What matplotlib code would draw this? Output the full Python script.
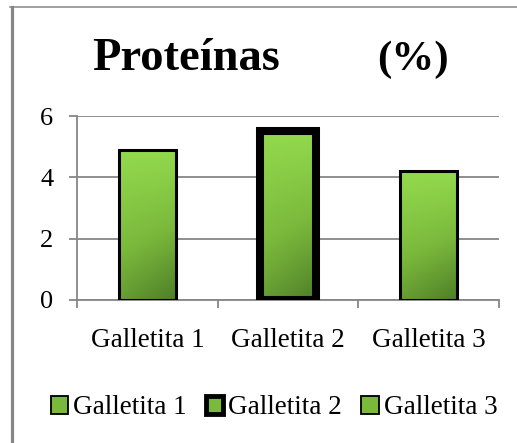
import matplotlib
matplotlib.use('Agg')
import matplotlib.pyplot as plt
import numpy as np
from matplotlib.colors import LinearSegmentedColormap
from matplotlib.lines import Line2D
from matplotlib.patches import Patch

plt.rcParams['font.family'] = ['Liberation Serif', 'DejaVu Serif']

# datos
categorias = ['Galletita 1', 'Galletita 2', 'Galletita 3']
proteinas = [4.9, 5.5, 4.2]
bordes = [2.2, 5.8, 2.2]
y_ticks = [0, 2, 4, 6]

verde = LinearSegmentedColormap.from_list('verde', ['#93DA4D', '#7BB93C', '#4E7E28'])
gris = '#868686'

fig = plt.figure(figsize=(5.17, 4.43), dpi=100)
ax = fig.add_axes([77 / 517, 1 - 300 / 443, 422 / 517, 184 / 443])

x = np.arange(len(categorias))
barras = ax.bar(x, proteinas, width=0.405, color='none', edgecolor='black', zorder=3)

# degradado diagonal dentro de cada barra
u, v = np.meshgrid(np.linspace(0, 1, 60), np.linspace(0, 1, 200))
grad = 0.8 * v + 0.3 * u * v
for b, lw in zip(barras, bordes):
    b.set_linewidth(lw)
    x0, w, h = b.get_x(), b.get_width(), b.get_height()
    im = ax.imshow(grad, cmap=verde, vmin=0, vmax=1.1, aspect='auto',
                   extent=[x0, x0 + w, 0, h], origin='upper', zorder=2)
    im.set_clip_path(b)

ax.set_xlim(-0.5, 2.5)
ax.set_ylim(0, 6)
ax.set_yticks(y_ticks)
ax.yaxis.grid(True, color=gris, linewidth=1.3)
ax.set_axisbelow(True)

ax.set_xticks([-0.5, 0.5, 1.5, 2.5])
ax.set_xticklabels([])
ax.set_xticks(x, minor=True)
ax.set_xticklabels(categorias, minor=True)
ax.tick_params(axis='x', which='major', length=6, color=gris, width=1.3)
ax.tick_params(axis='x', which='minor', length=0, pad=20, labelsize=19.5)
ax.tick_params(axis='y', length=6, color=gris, width=1.3, labelsize=19, pad=11)

for lado in ['top', 'right']:
    ax.spines[lado].set_visible(False)
for lado in ['left', 'bottom']:
    ax.spines[lado].set_color(gris)
    ax.spines[lado].set_linewidth(1.3)

# titulo
fig.text(92 / 517, 1 - 70 / 443, 'Proteínas', fontsize=33.5, fontweight='bold', va='baseline')
fig.text(377 / 517, 1 - 70 / 443, '(%)', fontsize=31, fontweight='bold', va='baseline')

# leyenda
handles = [Patch(facecolor='#7BB93C', edgecolor='black', linewidth=lw * 0.6) for lw in bordes]
fig.legend(handles, categorias, loc='center', bbox_to_anchor=(274 / 517, 1 - 408 / 443),
           ncol=3, frameon=False, fontsize=19.5, handlelength=0.65, handleheight=0.65,
           handletextpad=0.18, columnspacing=0.7, borderpad=0, borderaxespad=0)

# marco del grafico
fig.add_artist(Line2D([11.5 / 517, 11.5 / 517], [0, 1 - 7 / 443], color=gris, linewidth=2.3))
fig.add_artist(Line2D([10 / 517, 1], [1 - 7.3 / 443, 1 - 7.3 / 443], color=gris, linewidth=1.1))

fig.savefig('out.png', dpi=100)
